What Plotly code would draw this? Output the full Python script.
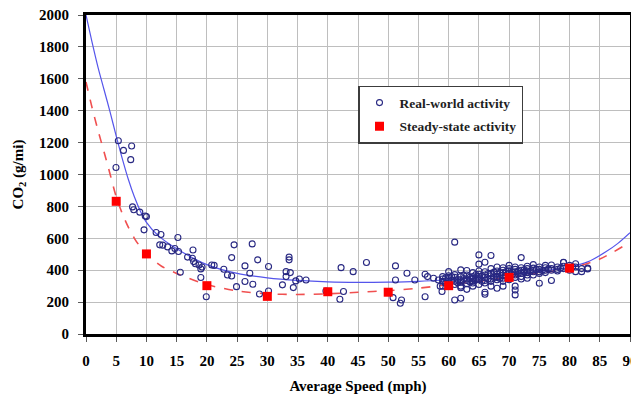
import plotly.graph_objects as go

# Real-world activity (scatter points)
rw_speed = [
    5.35, 6.2, 7.55, 7.4, 4.96,
    7.7, 7.9, 8.9, 9.8, 10.0, 9.6, 11.6, 12.4, 12.2, 12.7, 13.5, 14.2, 14.7, 15.2, 15.3,
    15.6, 16.8, 17.7, 17.6, 17.8, 18.1, 18.7, 19.0, 19.0, 19.2, 19.9, 20.8, 21.2,
    22.8, 23.4, 24.1, 24.1, 24.5, 24.9, 26.3, 26.3, 27.1, 27.5, 27.6, 28.4, 28.7, 30.2, 30.2,
    32.5, 33.1, 33.6, 33.6, 33.8, 33.1, 34.3, 34.7, 35.3, 36.4, 39.7, 42.0, 42.6, 42.2, 44.2,
    46.4, 51.2, 51.2, 50.8, 52.2, 52.0, 53.1, 54.4,
    56.1, 56.5, 56.1, 57.5, 58.3, 58.9, 58.6,
    59, 59, 59, 59, 59.5, 59.5,
    60, 60, 60, 60, 60, 60, 60.5, 60.5,
    61, 61, 61, 61, 61, 61, 61.5, 61.5,
    62, 62, 62, 62, 62, 62, 62, 62.5, 62.5,
    63, 63, 63, 63, 63, 63, 63.5, 63.5,
    64, 64, 64, 64, 64, 64, 64, 64.5, 64.5,
    65, 65, 65, 65, 65, 65, 65, 65, 65.5, 65.5,
    66, 66, 66, 66, 66, 66, 66, 66, 66.5, 66.5,
    67, 67, 67, 67, 67, 67, 67, 67.5, 67.5,
    68, 68, 68, 68, 68, 68, 68, 68.5, 68.5,
    69, 69, 69, 69, 69, 69, 69, 69.5, 69.5,
    70, 70, 70, 70, 70, 70, 70, 70.5, 70.5,
    71, 71, 71, 71, 71, 71, 71, 71, 71.5, 71.5,
    72, 72, 72, 72, 72, 72, 72.5, 72.5,
    73, 73, 73, 73, 73, 73, 73.5,
    74, 74, 74, 74, 74, 74.5,
    75, 75, 75, 75, 75, 75.5,
    76, 76, 76, 76, 76.5,
    77, 77, 77, 77,
    78, 78, 78, 78.5,
    79, 79, 79, 79,
    80, 80, 80, 80.5,
    81, 81, 81,
    82, 82,
    83, 83,
]
rw_co2 = [
    1212, 1151, 1179, 1093, 1044,
    797, 779, 764, 740, 736, 653, 636, 624, 559, 557, 546, 521, 536, 605, 517,
    387, 482, 527, 475, 454, 440, 433, 408, 354, 420, 234, 433, 430,
    406, 370, 364, 479, 559, 297, 427, 329, 381, 565, 312, 465, 251, 423, 270,
    308, 391, 482, 465, 385, 360, 291, 333, 345, 339, 270, 218, 266, 416, 391,
    448, 427, 339, 228, 213, 193, 381, 339,
    375, 360, 234, 350, 339, 266, 300,
    330, 345, 360, 300, 352, 318,
    391, 350, 320, 340, 365, 305, 335, 360,
    576, 213, 330, 355, 310, 372, 342, 322,
    224, 402, 340, 300, 360, 325, 290, 348, 365,
    398, 345, 315, 370, 335, 280, 355, 328,
    350, 330, 300, 385, 360, 320, 345, 338, 372,
    496, 438, 360, 340, 310, 375, 350, 395, 365, 330,
    450, 249, 262, 370, 335, 355, 320, 390, 345, 378,
    492, 380, 345, 300, 365, 410, 330, 355, 388,
    420, 355, 287, 340, 375, 395, 360, 348, 382,
    400, 350, 370, 385, 330, 415, 300, 362, 392,
    380, 365, 395, 350, 410, 340, 430, 372, 388,
    276, 245, 300, 390, 370, 420, 355, 405, 378, 395,
    479, 400, 380, 360, 415, 345, 388, 402,
    395, 370, 425, 385, 350, 410, 392,
    413, 390, 400, 370, 435, 405,
    318, 405, 390, 420, 380, 398,
    400, 415, 385, 430, 408,
    433, 335, 400, 410,
    395, 420, 405, 412,
    448, 450, 410, 425,
    430, 415, 400, 422,
    440, 391, 420,
    391, 410,
    408, 413,
]

# Steady-state activity
ss_speed = [5, 10, 20, 30, 40, 50, 60, 70, 80]
ss_co2 = [832, 502, 303, 236, 265, 262, 303, 355, 413]

# Fitted curves
fit_rw_speed = [0, 1, 2, 3, 4, 5, 6, 7, 8, 9, 10, 12, 15, 20, 25, 30, 35, 40, 45, 50, 55, 60, 65, 70, 75, 80, 83, 86, 88, 90]
fit_rw_co2 = [2000, 1830, 1670, 1530, 1390, 1240, 1100, 970, 860, 770, 700, 615, 535, 435, 380, 352, 336, 327, 324, 325, 330, 340, 353, 370, 392, 420, 452, 515, 568, 635]
fit_ss_speed = [0, 1, 2, 3, 4, 5, 6, 7, 8, 9, 10, 12.5, 15, 20, 25, 30, 35, 40, 45, 50, 55, 60, 65, 70, 75, 80, 85, 90]
fit_ss_co2 = [1580, 1420, 1275, 1140, 1000, 860, 755, 670, 600, 545, 502, 425, 380, 310, 270, 252, 248, 252, 262, 272, 287, 310, 330, 356, 382, 410, 470, 575]

x_ticks = list(range(0, 95, 5))
y_ticks = list(range(0, 2200, 200))

SERIF = "Liberation Serif, Times New Roman, serif"

fig = go.Figure()
fig.add_trace(go.Scatter(x=fit_rw_speed, y=fit_rw_co2, mode="lines", line=dict(color="rgb(85,85,235)", width=1.2, shape="spline", smoothing=0.8),
                         showlegend=False, hoverinfo="skip"))
fig.add_trace(go.Scatter(x=fit_ss_speed, y=fit_ss_co2, mode="lines", line=dict(color="rgb(240,80,80)", width=1.6, dash="dash", shape="spline", smoothing=0.8),
                         showlegend=False, hoverinfo="skip"))
fig.add_trace(go.Scatter(x=rw_speed, y=rw_co2, mode="markers", name="Real-world activity", legendgroup="a",
                         marker=dict(symbol="circle-open", size=6, color="rgb(40,40,130)", line=dict(width=1.1))))
fig.add_trace(go.Scatter(x=ss_speed, y=ss_co2, mode="markers", name="Steady-state activity", legendgroup="b",
                         marker=dict(symbol="square", size=9, color="rgb(255,0,0)")))

fig.update_layout(
    width=631, height=400,
    margin=dict(l=86, r=1, t=15, b=66),
    paper_bgcolor="white", plot_bgcolor="white",
    font=dict(family=SERIF, color="black"),
    legend=dict(x=0.5, y=0.778, xanchor="left", yanchor="top", bgcolor="white",
                bordercolor="rgb(60,60,60)", borderwidth=1.5, tracegroupgap=3,
                font=dict(family=SERIF, size=13.5, weight="bold", color="rgb(30,30,30)")),
)
fig.update_xaxes(range=[0, 90], tickvals=x_ticks, ticktext=[str(v) for v in x_ticks],
                 showgrid=True, gridcolor="rgb(190,190,190)", gridwidth=1,
                 showline=True, linecolor="black", linewidth=3, mirror=True, zeroline=False,
                 ticks="outside", ticklen=5, tickcolor="rgb(90,90,90)", ticklabelstandoff=6,
                 ticklabeloverflow="allow",
                 tickfont=dict(family=SERIF, size=15, weight="bold"), automargin=False,
                 title=dict(text="Average Speed (mph)", font=dict(family=SERIF, size=15, weight="bold"), standoff=13))
fig.update_yaxes(range=[0, 2000], tickvals=y_ticks,
                 showgrid=True, gridcolor="rgb(190,190,190)", gridwidth=1,
                 showline=True, linecolor="black", linewidth=3, mirror=True, zeroline=False,
                 ticks="outside", ticklen=5, tickcolor="rgb(90,90,90)", ticklabelstandoff=6,
                 tickfont=dict(family=SERIF, size=15, weight="bold"), automargin=False,
                 title=dict(text="CO<sub>2</sub> (g/mi)", font=dict(family=SERIF, size=15, weight="bold"), standoff=12))

fig.write_html("out.html")
